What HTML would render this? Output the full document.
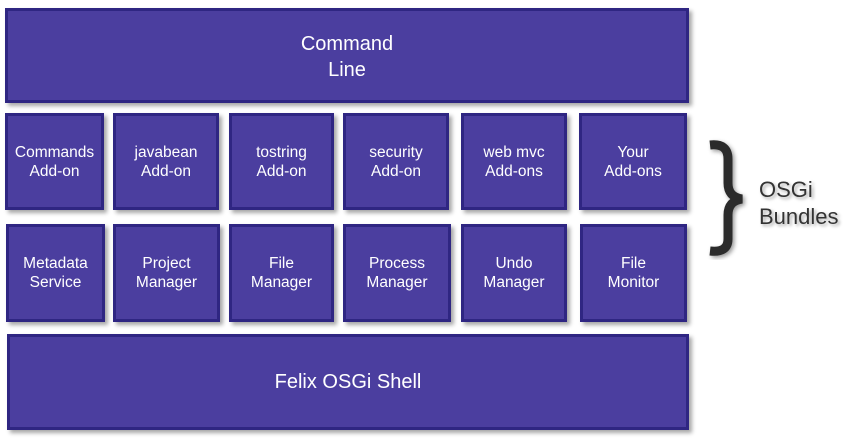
<!DOCTYPE html>
<html><head><style>
body{margin:0;width:858px;height:441px;background:#fff;position:relative;font-family:"Liberation Sans",sans-serif;overflow:hidden}
.b{position:absolute;box-sizing:border-box;background:#4b3e9f;border:3px solid #2f2682;box-shadow:3px 3px 4px rgba(0,0,0,0.35);color:#fff;display:flex;align-items:center;justify-content:center;text-align:center;font-size:15.5px;line-height:19px}
.big{font-size:20px;line-height:26px}
</style></head><body>
<div class="b big" style="left:5px;top:8px;width:684px;height:95px;padding-top:2px">Command<br>Line</div>
<div class="b" style="left:5px;top:113px;width:99px;height:97px">Commands<br>Add-on</div>
<div class="b" style="left:113px;top:113px;width:106px;height:97px">javabean<br>Add-on</div>
<div class="b" style="left:229px;top:113px;width:105px;height:97px">tostring<br>Add-on</div>
<div class="b" style="left:343px;top:113px;width:106px;height:97px">security<br>Add-on</div>
<div class="b" style="left:461px;top:113px;width:106px;height:97px">web mvc<br>Add-ons</div>
<div class="b" style="left:579px;top:113px;width:108px;height:97px">Your<br>Add-ons</div>
<div class="b" style="left:6px;top:224px;width:99px;height:98px">Metadata<br>Service</div>
<div class="b" style="left:113px;top:224px;width:107px;height:98px">Project<br>Manager</div>
<div class="b" style="left:229px;top:224px;width:105px;height:98px">File<br>Manager</div>
<div class="b" style="left:343px;top:224px;width:108px;height:98px">Process<br>Manager</div>
<div class="b" style="left:461px;top:224px;width:106px;height:98px">Undo<br>Manager</div>
<div class="b" style="left:580px;top:224px;width:107px;height:98px">File<br>Monitor</div>
<div class="b big" style="left:7px;top:334px;width:682px;height:96px">Felix OSGi Shell</div>
<svg style="position:absolute;left:700px;top:135px" width="60" height="125">
<path d="M10 10 Q28 8 28 24 L28 48 Q28 62 42 64 Q28 66 28 80 L28 104 Q28 118 10 116" fill="none" stroke="#2b2b2b" stroke-width="9" filter="drop-shadow(2px 2px 2px rgba(0,0,0,0.4))"/>
</svg>
<div style="position:absolute;left:759px;top:176px;font-size:22px;line-height:27px;color:#333;text-shadow:2px 2px 3px rgba(0,0,0,0.35)">OSGi<br>Bundles</div>
</body></html>
